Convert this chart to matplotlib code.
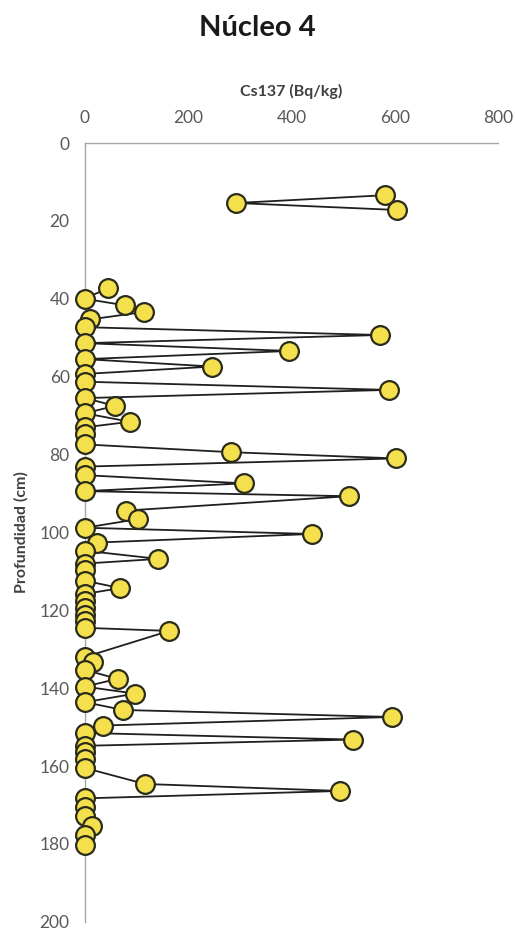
import matplotlib as mpl
import matplotlib.pyplot as plt
import numpy as np

mpl.use("Agg")
plt.rcParams["font.family"] = ["Lato", "DejaVu Sans"]

# Cs137 activity (Bq/kg) vs depth (cm); NaN splits the upper isolated group
depth = [13.4, 15.4, 17.2, np.nan,
         37.2, 40.0, 41.7, 43.4, 45.3, 47.3, 49.3, 51.4, 53.4, 55.5,
         57.4, 59.3, 61.3, 63.4, 65.5, 67.5, 69.4, 71.6, 73.0, 74.7,
         77.4, 79.4, 81.0, 83.1, 85.3, 87.4, 89.4, 90.7, 94.4, 96.6,
         98.8, 100.4, 102.6, 104.7, 106.8, 108.0, 109.6, 112.4, 114.3, 115.8,
         117.6, 119.4, 121.2, 122.8, 124.5, 125.3, 132.0, 133.4, 135.3, 137.6,
         139.6, 141.4, 143.6, 145.6, 147.4, 149.6, 151.5, 153.2, 154.8, 156.4,
         158.1, 160.5, 164.6, 166.4, 168.3, 170.5, 172.9, 175.5, 177.6, 180.2]
cs137 = [581, 293, 605, np.nan,
         45, 0, 78, 114, 10, 0, 572, 0, 396, 0,
         247, 0, 0, 588, 0, 58, 0, 87, 0, 0,
         0, 283, 603, 0, 0, 308, 0, 511, 79, 102,
         0, 439, 24, 0, 142, 0, 0, 0, 68, 0,
         0, 0, 0, 0, 0, 163, 0, 16, 0, 63,
         0, 97, 0, 74, 594, 34, 0, 520, 0, 0,
         0, 0, 116, 494, 0, 0, 0, 14, 0, 0]

x_ticks = [0, 200, 400, 600, 800]
y_ticks = [0, 20, 40, 60, 80, 100, 120, 140, 160, 180, 200]

fig = plt.figure(figsize=(5.15, 9.33), dpi=100)
ax = fig.add_axes([0.165, 0.012, 0.802, 0.8347])

ax.plot(cs137, depth, "-o", color="#1f1f1f", linewidth=1.3,
        markersize=13.5, markerfacecolor="#F4E04D",
        markeredgecolor="#2b2b1b", markeredgewidth=1.6,
        clip_on=False, zorder=3)

ax.set_xlim(0, 800)
ax.set_ylim(200, 0)
ax.set_xticks(x_ticks)
ax.set_yticks(y_ticks)

ax.xaxis.set_ticks_position("top")
ax.xaxis.set_label_position("top")
for side in ["right", "bottom"]:
    ax.spines[side].set_visible(False)
for side in ["top", "left"]:
    ax.spines[side].set_color("#a6a6a6")
    ax.spines[side].set_linewidth(1.0)

ax.tick_params(axis="x", length=0, pad=12, labelsize=12.5, labelcolor="#595959")
ax.tick_params(axis="y", length=0, pad=11, labelsize=12.5, labelcolor="#595959")

ax.set_xlabel("Cs137 (Bq/kg)", fontsize=11.5, fontweight="bold",
              color="#404040", labelpad=10)
ax.set_ylabel("Profundidad (cm)", fontsize=11.5, fontweight="bold",
              color="#404040", labelpad=8)

fig.text(0.5, 0.97, "Núcleo 4", ha="center", va="center",
         fontsize=21, fontweight="bold", color="#1a1a1a")

fig.savefig("out.png", dpi=100)
